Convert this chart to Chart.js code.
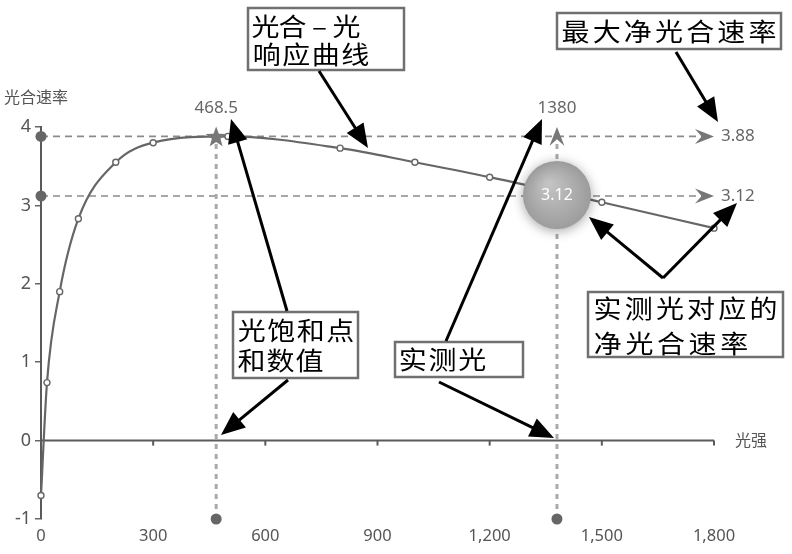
<!DOCTYPE html>
<html>
<head>
<meta charset="utf-8">
<script src="https://cdn.jsdelivr.net/npm/chart.js@4.4.1/dist/chart.umd.min.js"></script>
<style>
html, body { margin: 0; padding: 0; background: #fff; }
#wrap { width: 792px; height: 554px; }
</style>
</head>
<body>
<div id="wrap"><canvas id="miGrafico" width="792" height="554"></canvas></div>
<script>
// 光强 / 光合速率 (light response curve)
const lightX = [0, 16, 50, 100, 200, 300, 500, 800, 1000, 1200, 1500, 1800];
const rateY = [-0.7, 0.74, 1.9, 2.83, 3.55, 3.8, 3.88, 3.73, 3.55, 3.36, 3.04, 2.71];
const xTicks = [0, 300, 600, 900, 1200, 1500, 1800];
const yTicks = [-1, 0, 1, 2, 3, 4];
const satLight = 468.5;   // 光饱和点
const maxRate = 3.88;     // 最大净光合速率
const measLight = 1380;   // 实测光
const measRate = 3.12;    // 实测光对应的净光合速率

const tickFont = '16px "Noto Sans", "Noto Sans CJK SC", sans-serif';
const cjkFont = '16px "Noto Sans CJK SC", sans-serif';

// callout boxes drawn on top of the chart
const notes = [
    { x: 248, y: 8, w: 156, h: 62, lines: [['光合–光', 252, 360, 26], ['响应曲线', 252, 370, 54]] },
    { x: 557, y: 13, w: 224, h: 36, lines: [['最大净光合速率', 560, 778, 31]] },
    { x: 233, y: 312, w: 125, h: 66, lines: [['光饱和点', 237, 355, 330], ['和数值', 237, 324, 360]] },
    { x: 395, y: 342, w: 128, h: 35, lines: [['实测光', 398, 487, 359]] },
    { x: 588, y: 292, w: 195, h: 65, lines: [['实测光对应的', 592, 779, 308], ['净光合速率', 592, 750, 343]] }
];
const noteArrows = [
    [319, 71, 368, 148],
    [676, 52, 718, 122],
    [287, 311, 231, 119],
    [288, 380, 221, 435],
    [446, 341, 542, 119],
    [439, 382, 554, 438],
    [663, 278, 589, 217],
    [663, 278, 737, 203]
];

function blackArrow(ctx, x1, y1, x2, y2) {
    const a = Math.atan2(y2 - y1, x2 - x1);
    const L = 24, W = 10;
    const c = Math.cos(a), s = Math.sin(a);
    ctx.strokeStyle = '#000';
    ctx.fillStyle = '#000';
    ctx.lineWidth = 3;
    ctx.setLineDash([]);
    ctx.beginPath();
    ctx.moveTo(x1, y1);
    ctx.lineTo(x2 - L * 0.8 * c, y2 - L * 0.8 * s);
    ctx.stroke();
    ctx.beginPath();
    ctx.moveTo(x2, y2);
    ctx.lineTo(x2 - L * c + W * s, y2 - L * s - W * c);
    ctx.lineTo(x2 - L * c - W * s, y2 - L * s + W * c);
    ctx.closePath();
    ctx.fill();
}

function greyArrow(ctx, tx, ty, a) {
    const L = 19, W = 7.5;
    const c = Math.cos(a), s = Math.sin(a);
    ctx.fillStyle = '#777';
    ctx.beginPath();
    ctx.moveTo(tx, ty);
    ctx.lineTo(tx - L * c + W * s, ty - L * s - W * c);
    ctx.lineTo(tx - L * 0.65 * c, ty - L * 0.65 * s);
    ctx.lineTo(tx - L * c - W * s, ty - L * s + W * c);
    ctx.closePath();
    ctx.fill();
}

function drawNote(ctx, n) {
    ctx.setLineDash([]);
    ctx.fillStyle = '#fff';
    ctx.fillRect(n.x, n.y, n.w, n.h);
    ctx.strokeStyle = '#707070';
    ctx.lineWidth = 2.5;
    ctx.strokeRect(n.x, n.y, n.w, n.h);
    ctx.fillStyle = '#000';
    ctx.font = '25px "Noto Sans CJK SC", sans-serif';
    ctx.textAlign = 'center';
    ctx.textBaseline = 'middle';
    for (const [txt, x0, x1, yc] of n.lines) {
        const chars = Array.from(txt);
        const cell = (x1 - x0) / chars.length;
        chars.forEach((ch, i) => {
            ctx.save();
            ctx.translate(x0 + cell * (i + 0.5), yc);
            ctx.scale(1.12, 1);
            ctx.fillText(ch, 0, 0);
            ctx.restore();
        });
    }
}

const overlay = {
    id: 'overlay',
    beforeDatasetsDraw(chart) {
        const { ctx, scales: { x, y } } = chart;
        const x0 = x.getPixelForValue(0), xEnd = x.getPixelForValue(1800);
        const y0 = y.getPixelForValue(0);
        ctx.save();
        // x axis line on zero
        ctx.strokeStyle = '#5a5a5a';
        ctx.lineWidth = 2;
        ctx.beginPath();
        ctx.moveTo(x0, y0);
        ctx.lineTo(xEnd, y0);
        ctx.stroke();
        for (const t of xTicks) {
            if (t === 0) continue;
            const px = x.getPixelForValue(t);
            ctx.beginPath();
            ctx.moveTo(px, y0);
            ctx.lineTo(px, y0 + 5);
            ctx.stroke();
        }
        // horizontal dashed lines
        ctx.setLineDash([7, 5]);
        ctx.strokeStyle = '#8a8a8a';
        ctx.lineWidth = 1.6;
        for (const v of [maxRate, measRate]) {
            const py = y.getPixelForValue(v);
            ctx.beginPath();
            ctx.moveTo(x0, py);
            ctx.lineTo(xEnd - 12, py);
            ctx.stroke();
        }
        // vertical dotted lines
        ctx.setLineDash([5, 5]);
        ctx.strokeStyle = '#aaa';
        ctx.lineWidth = 3;
        const yBot = y.getPixelForValue(-1);
        let px = x.getPixelForValue(satLight);
        ctx.beginPath();
        ctx.moveTo(px, yBot);
        ctx.lineTo(px, y.getPixelForValue(maxRate));
        ctx.stroke();
        px = x.getPixelForValue(measLight);
        ctx.beginPath();
        ctx.moveTo(px, yBot);
        ctx.lineTo(px, y.getPixelForValue(4) + 12);
        ctx.stroke();
        ctx.restore();
    },
    afterDatasetsDraw(chart) {
        const { ctx, scales: { x, y } } = chart;
        const x0 = x.getPixelForValue(0), xEnd = x.getPixelForValue(1800);
        const yBot = y.getPixelForValue(-1), yTop = y.getPixelForValue(4);
        ctx.save();
        ctx.setLineDash([]);
        // arrows on dashed lines
        greyArrow(ctx, xEnd, y.getPixelForValue(maxRate), 0);
        greyArrow(ctx, xEnd, y.getPixelForValue(measRate), 0);
        greyArrow(ctx, x.getPixelForValue(measLight), yTop, -Math.PI / 2);
        // start dots
        ctx.fillStyle = '#666';
        for (const [dx, dy] of [[x0, y.getPixelForValue(maxRate)], [x0, y.getPixelForValue(measRate)],
                                [x.getPixelForValue(satLight), yBot], [x.getPixelForValue(measLight), yBot]]) {
            ctx.beginPath();
            ctx.arc(dx, dy, 5.5, 0, Math.PI * 2);
            ctx.fill();
        }
        // star at light saturation point
        const sx = x.getPixelForValue(satLight), sy = y.getPixelForValue(maxRate);
        ctx.fillStyle = '#777';
        ctx.beginPath();
        for (let i = 0; i < 10; i++) {
            const r = i % 2 === 0 ? 11 : 4.5;
            const ang = -Math.PI / 2 + i * Math.PI / 5;
            ctx.lineTo(sx + r * Math.cos(ang), sy + 1 + r * Math.sin(ang));
        }
        ctx.closePath();
        ctx.fill();
        // bubble
        const bx = x.getPixelForValue(measLight), by = y.getPixelForValue(measRate);
        ctx.save();
        ctx.shadowColor = 'rgba(0,0,0,0.35)';
        ctx.shadowBlur = 12;
        ctx.shadowOffsetY = 2;
        const g = ctx.createRadialGradient(bx - 8, by - 12, 3, bx, by, 34);
        g.addColorStop(0, '#c2c2c2');
        g.addColorStop(1, '#9c9c9c');
        ctx.fillStyle = g;
        ctx.beginPath();
        ctx.arc(bx, by - 1, 34, 0, Math.PI * 2);
        ctx.fill();
        ctx.restore();
        ctx.fillStyle = '#fff';
        ctx.font = tickFont;
        ctx.textAlign = 'center';
        ctx.textBaseline = 'middle';
        ctx.fillText(String(measRate), bx, by - 1);
        // value labels
        ctx.fillStyle = '#666';
        ctx.font = '17px "Noto Sans", sans-serif';
        ctx.fillText(String(satLight), sx, yTop - 19);
        ctx.fillText(String(measLight), bx, yTop - 19);
        ctx.textAlign = 'left';
        ctx.font = '17px "Noto Sans", sans-serif';
        ctx.fillText(maxRate.toFixed(2), xEnd + 7, y.getPixelForValue(maxRate));
        ctx.fillText(measRate.toFixed(2), xEnd + 7, y.getPixelForValue(measRate));
        // axis names
        ctx.fillStyle = '#555';
        ctx.font = cjkFont;
        ctx.fillText('光强', xEnd + 21, y.getPixelForValue(0) - 1);
        ctx.fillText('光合速率', 4, 97);
        // callouts
        for (const n of notes) drawNote(ctx, n);
        for (const a of noteArrows) blackArrow(ctx, a[0], a[1], a[2], a[3]);
        ctx.restore();
    }
};

const points = lightX.map((v, i) => ({ x: v, y: rateY[i] }));

const grafico = new Chart(document.getElementById('miGrafico'), {
    type: 'line',
    data: {
        datasets: [{
            data: points,
            borderColor: '#666',
            borderWidth: 2.2,
            cubicInterpolationMode: 'monotone',
            pointRadius: 3,
            pointBackgroundColor: '#fff',
            pointBorderColor: '#666',
            pointBorderWidth: 1.4,
            clip: false
        }]
    },
    options: {
        responsive: false,
        animation: false,
        layout: { padding: { top: 127, right: 78, left: 0, bottom: 0 } },
        plugins: { legend: { display: false }, tooltip: { enabled: false } },
        scales: {
            x: {
                type: 'linear',
                min: 0,
                max: 1800,
                afterFit: (s) => { s.height = 35; },
                afterBuildTicks: (s) => { s.ticks = xTicks.map(v => ({ value: v })); },
                grid: { display: false, drawTicks: false },
                border: { display: false },
                ticks: {
                    padding: 7,
                    color: '#555',
                    font: { family: '"Noto Sans", sans-serif', size: 16.5 },
                    maxRotation: 0,
                    callback: (v) => v.toLocaleString('en-US')
                }
            },
            y: {
                min: -1,
                max: 4,
                afterFit: (s) => { s.width = 41; },
                afterBuildTicks: (s) => { s.ticks = yTicks.map(v => ({ value: v })); },
                grid: { drawOnChartArea: false, tickLength: 6, color: '#666', lineWidth: 1.5 },
                border: { display: true, color: '#5a5a5a', width: 2 },
                ticks: {
                    padding: 4,
                    color: '#555',
                    font: { family: '"Noto Sans", sans-serif', size: 18 }
                }
            }
        }
    },
    plugins: [overlay]
});
</script>
</body>
</html>
